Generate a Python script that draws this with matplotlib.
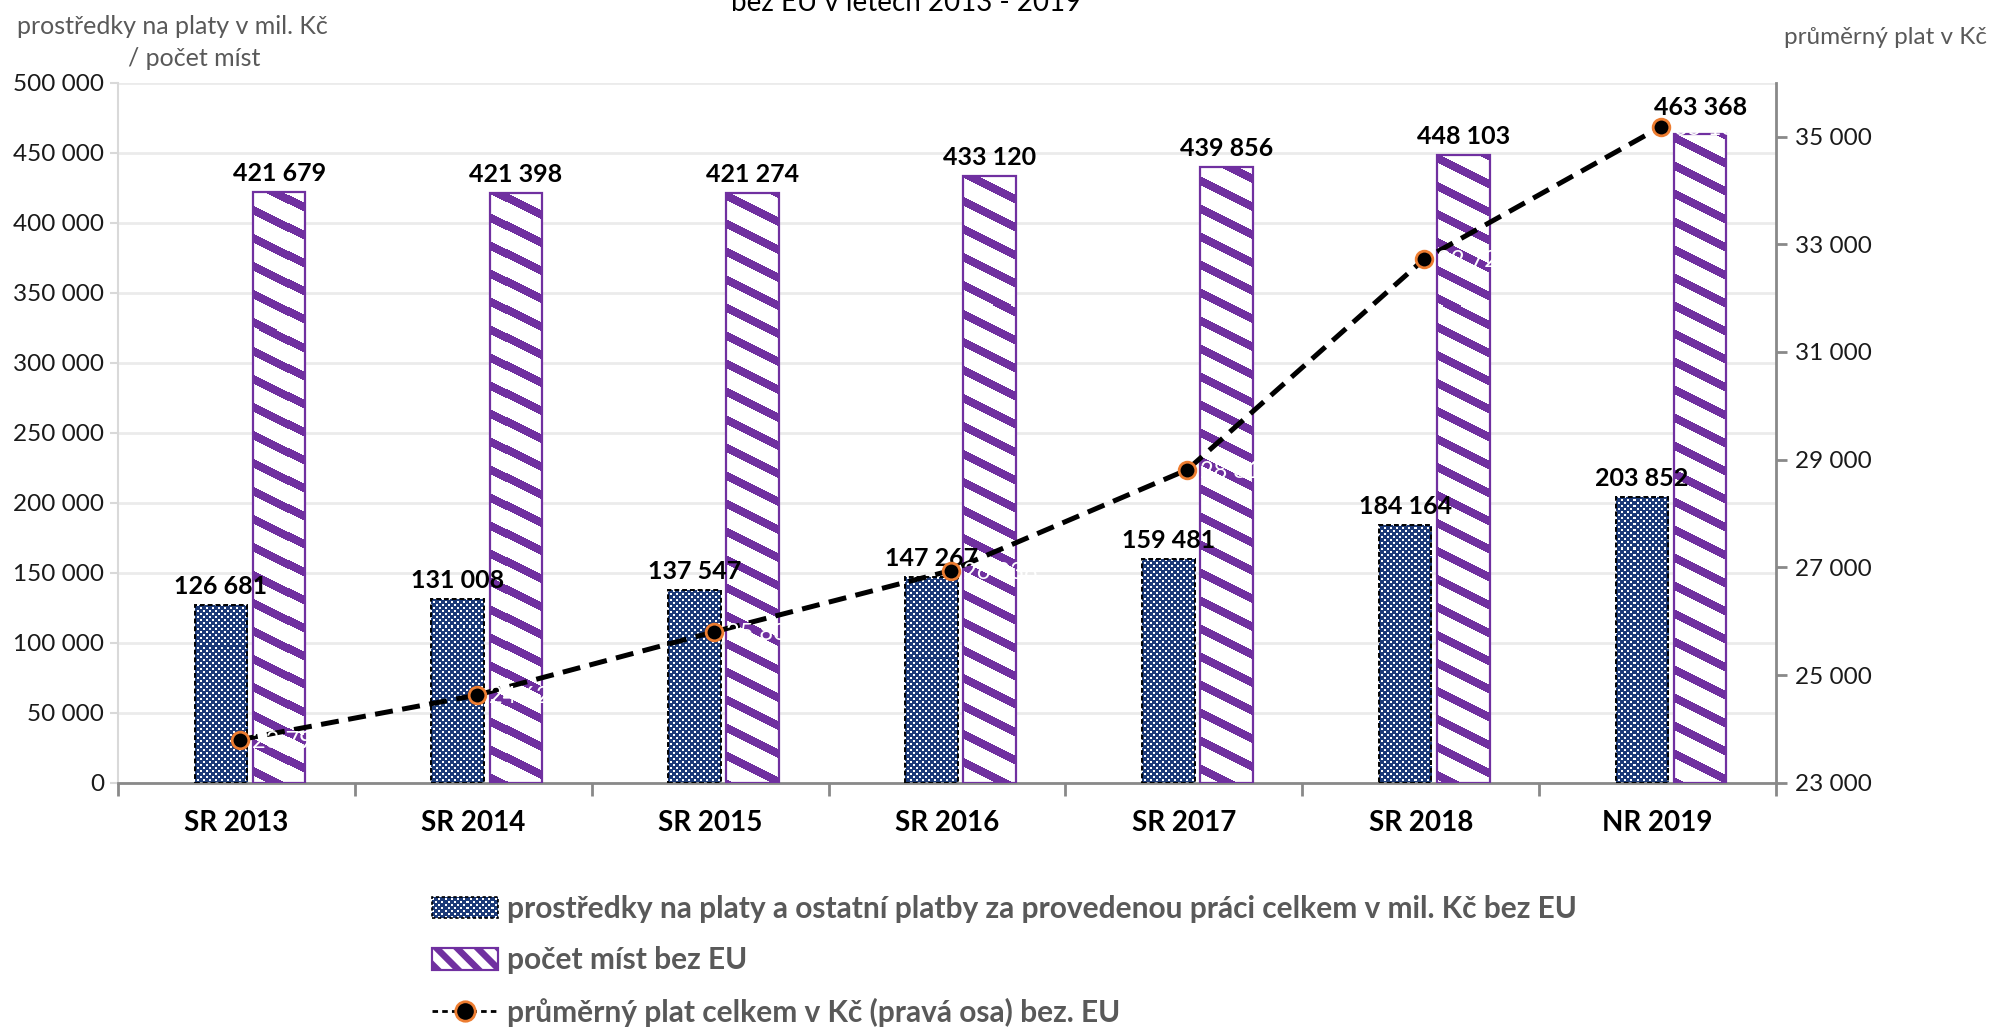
import numpy as np
import matplotlib
matplotlib.use("Agg")
import matplotlib.pyplot as plt
from matplotlib.patches import Rectangle, Polygon
from matplotlib.collections import PatchCollection
from matplotlib.lines import Line2D
from matplotlib.legend_handler import HandlerBase
from matplotlib.ticker import FuncFormatter

# ---------------- data ----------------
categories = ["SR 2013", "SR 2014", "SR 2015", "SR 2016", "SR 2017", "SR 2018", "NR 2019"]
funds = [126681, 131008, 137547, 147267, 159481, 184164, 203852]          # mil. Kč
places = [421679, 421398, 421274, 433120, 439856, 448103, 463368]         # počet míst
avg_salary = [23799, 24626, 25800, 26938, 28814, 32726, 35183]            # Kč (right axis)

title_text = "bez EU v letech 2013 - 2019"
left_label_1 = "prostředky na platy v mil. Kč"
left_label_2 = "/ počet míst"
right_label = "průměrný plat v Kč"
leg_funds = "prostředky na platy a ostatní platby za provedenou práci celkem v mil. Kč bez EU"
leg_places = "počet míst bez EU"
leg_avg = "průměrný plat celkem v Kč (pravá osa) bez. EU"

# ---------------- style ----------------
NAVY = "#1c3a78"
PURPLE = "#7030a0"
ORANGE = "#ed7d31"
GRAY_TXT = "#595959"
DPI = 100
plt.rcParams["font.family"] = ["Lato", "DejaVu Sans"]

fig = plt.figure(figsize=(19.94, 10.29), dpi=DPI)
ax = fig.add_axes([118 / 1994, 1 - 782.7 / 1029, (1776 - 118) / 1994, 700 / 1029])
ax2 = ax.twinx()

n = len(categories)
x = np.arange(n)
ax.set_xlim(-0.5, n - 0.5)
ax.set_ylim(0, 500000)
ax2.set_ylim(23000, 36000)

fmt = FuncFormatter(lambda v, p: f"{v:,.0f}".replace(",", " "))

# ---------------- bars ----------------
bw = 0.222
b1 = ax.bar(x - 0.066, funds, width=bw, facecolor="none", edgecolor="black",
            linewidth=1.4, linestyle=(0, (2.5, 1.5)), zorder=3)
b2 = ax.bar(x + 0.180, places, width=bw, facecolor="none", edgecolor=PURPLE,
            linewidth=1.6, zorder=3)

# pixel textures covering the axes, clipped to each bar
bbox = ax.get_window_extent()
W, H = int(round(bbox.width)), int(round(bbox.height))
rr, cc = np.mgrid[0:H, 0:W]
white_cell = ((rr // 3 + cc // 3) % 2 == 0) & (rr % 3 < 2) & (cc % 3 < 2)
chk_img = np.empty((H, W, 3))
chk_img[:] = matplotlib.colors.to_rgb(NAVY)
chk_img[white_cell] = 1.0
stripe = ((rr - 0.5 * cc) % 28) < 9
str_img = np.ones((H, W, 3))
str_img[stripe] = matplotlib.colors.to_rgb(PURPLE)

for bar in b1:
    im = ax.imshow(chk_img, extent=[0, 1, 0, 1], transform=ax.transAxes,
                   interpolation="nearest", aspect="auto", zorder=2)
    im.set_clip_path(bar)
for bar in b2:
    im = ax.imshow(str_img, extent=[0, 1, 0, 1], transform=ax.transAxes,
                   interpolation="nearest", aspect="auto", zorder=2)
    im.set_clip_path(bar)
ax.set_xlim(-0.5, n - 0.5)
ax.set_ylim(0, 500000)

# bar labels
for xi, v in zip(x, funds):
    ax.annotate(fmt(v, None), (xi - 0.066, v), xytext=(0, 5), textcoords="offset points",
                ha="center", va="bottom", fontsize=18, fontweight="bold", color="black", zorder=4)
for i, (xi, v) in enumerate(zip(x, places)):
    off = 11 if i == n - 1 else 5
    ax.annotate(fmt(v, None), (xi + 0.180, v), xytext=(0, off), textcoords="offset points",
                ha="center", va="bottom", fontsize=18, fontweight="bold", color="black", zorder=4)

# ---------------- line ----------------
ax2.plot(x + 0.015, avg_salary, color="black", linewidth=3.6, dashes=(3.6, 1.9),
         marker="o", markersize=12, markerfacecolor="black", markeredgecolor=ORANGE,
         markeredgewidth=2, zorder=5, clip_on=False)
for xi, v in zip(x, avg_salary):
    ax2.annotate(fmt(v, None), (xi + 0.015, v), xytext=(9, -1), textcoords="offset points",
                 ha="left", va="center", fontsize=17, color="white", zorder=6)

# ---------------- axes styling ----------------
ax.yaxis.set_major_formatter(fmt)
ax.set_yticks(np.arange(0, 500001, 50000))
ax.grid(axis="y", color="#ebebeb", linewidth=2)
ax.set_axisbelow(True)
ax.tick_params(axis="y", length=6, width=1.5, color="#d9d9d9", labelsize=17.5, labelcolor="#1a1a1a", pad=4)
ax.set_xticks(x)
ax.set_xticklabels(categories, fontsize=20, fontweight="bold")
ax.set_xticks(np.arange(-0.5, n, 1.0), minor=True)
ax.tick_params(axis="x", which="major", length=0, pad=20)
ax.tick_params(axis="x", which="minor", length=9, width=2, color="#898989")
for s in ["top", "right"]:
    ax.spines[s].set_visible(False)
ax.spines["left"].set_color("#d9d9d9")
ax.spines["left"].set_linewidth(1.5)
ax.spines["bottom"].set_color("#898989")
ax.spines["bottom"].set_linewidth(2)

ax2.set_yticks(np.arange(23000, 35001, 2000))
ax2.yaxis.set_major_formatter(fmt)
ax2.tick_params(axis="y", length=8, width=2, color="#898989", labelsize=17.5, labelcolor="#1a1a1a", pad=6)
for s in ["top", "left", "bottom"]:
    ax2.spines[s].set_visible(False)
ax2.spines["right"].set_color("#898989")
ax2.spines["right"].set_linewidth(2)

# ---------------- texts ----------------
fig.text(906 / 1994, 1 - 11 / 1029, title_text, ha="center", va="baseline", fontsize=20, color="black")
fig.text(172 / 1994, 1 - 26 / 1029, left_label_1, ha="center", va="center", fontsize=18, color=GRAY_TXT)
fig.text(194 / 1994, 1 - 59 / 1029, left_label_2, ha="center", va="center", fontsize=18, color=GRAY_TXT)
fig.text(1885 / 1994, 1 - 38 / 1029, right_label, ha="center", va="center", fontsize=17.5, color=GRAY_TXT)

# ---------------- legend ----------------
class CheckerHandler(HandlerBase):
    def create_artists(self, legend, orig_handle, xdescent, ydescent, width, height, fontsize, trans):
        x0, y0 = -xdescent, -ydescent
        cell = 3 * 72 / DPI
        nx, ny = int(width / cell), int(height / cell)
        cw, ch = width / nx, height / ny
        bg = Rectangle((x0, y0), width, height, facecolor=NAVY, edgecolor="none", transform=trans)
        sq = [Rectangle((x0 + i * cw, y0 + j * ch), cw * 0.67, ch * 0.67)
              for i in range(nx) for j in range(ny) if (i + j) % 2 == 0]
        pc = PatchCollection(sq, facecolor="white", edgecolor="none", transform=trans)
        ed = Rectangle((x0, y0), width, height, facecolor="none", edgecolor="black",
                       linewidth=1.2, linestyle=(0, (2, 1.5)), transform=trans)
        return [bg, pc, ed]


class StripeHandler(HandlerBase):
    def create_artists(self, legend, orig_handle, xdescent, ydescent, width, height, fontsize, trans):
        x0, y0 = -xdescent, -ydescent
        bg = Rectangle((x0, y0), width, height, facecolor="white", edgecolor=PURPLE, linewidth=1.5, transform=trans)
        arts = [bg]
        period = width / 3.2
        th = period * 0.45
        k = -2
        while k * period < width + height:
            sx = x0 + k * period
            poly = Polygon([(sx, y0 + height), (sx + th, y0 + height), (sx + th + height, y0), (sx + height, y0)],
                           closed=True, facecolor=PURPLE, edgecolor="none", transform=trans)
            poly.set_clip_path(bg)
            arts.append(poly)
            k += 1
        ed = Rectangle((x0, y0), width, height, facecolor="none", edgecolor=PURPLE, linewidth=1.5, transform=trans)
        arts.append(ed)
        return arts


h1 = Rectangle((0, 0), 1, 1)
h2 = Polygon([[0, 0], [1, 1], [1, 0]])
h3 = Line2D([], [], color="black", linewidth=2, dashes=(2, 1.5), marker="o", markersize=14,
            markerfacecolor="black", markeredgecolor=ORANGE, markeredgewidth=2)
leg = fig.legend([h1, h2, h3], [leg_funds, leg_places, leg_avg],
                 handler_map={Rectangle: CheckerHandler(), Polygon: StripeHandler()},
                 loc="upper left", bbox_to_anchor=(432 / 1994, 1 - 895 / 1029),
                 frameon=False, borderaxespad=0, borderpad=0,
                 prop={"size": 21.5, "weight": "bold"}, labelcolor=GRAY_TXT,
                 handlelength=2.2, handleheight=0.72, handletextpad=0.3, labelspacing=0.78)

fig.savefig("out.png", dpi=DPI)
